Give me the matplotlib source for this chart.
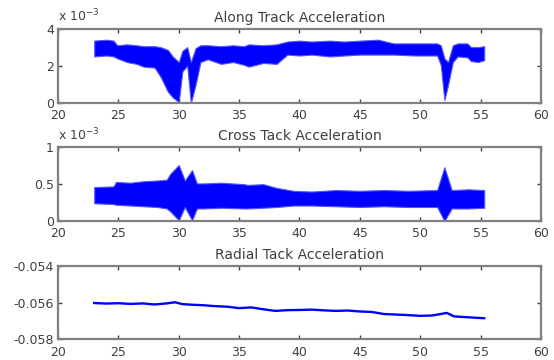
import matplotlib
matplotlib.use('Agg')
import matplotlib.pyplot as plt

plt.rcParams['font.family'] = ['DejaVu Sans']
plt.rcParams['axes.unicode_minus'] = False

# along track acceleration, envelope of the noisy band (units of 1e-3)
along_x = [23.0, 24.0, 24.6, 24.9, 25.7, 26.5, 27.1, 28.0, 28.5, 29.1, 29.5, 30.0,
           30.3, 30.7, 31.0, 31.4, 31.8, 32.4, 33.5, 34.5, 35.4, 35.8, 37.0, 38.1,
           39.0, 40.0, 41.0, 42.5, 43.7, 45.0, 46.5, 47.8, 49.5, 51.4, 51.7, 52.0,
           52.3, 52.7, 53.1, 53.9, 54.2, 54.8, 55.3]
along_hi = [3.35, 3.4, 3.35, 3.1, 3.15, 3.1, 3.05, 3.05, 3.0, 2.85, 2.5, 2.2,
            2.8, 3.0, 2.2, 2.95, 3.1, 3.1, 3.05, 3.1, 3.05, 3.15, 3.1, 3.15,
            3.3, 3.35, 3.3, 3.35, 3.3, 3.35, 3.4, 3.2, 3.2, 3.2, 3.1, 2.4,
            2.2, 3.1, 3.2, 3.2, 3.0, 3.0, 3.05]
along_lo = [2.5, 2.55, 2.5, 2.4, 2.2, 2.1, 1.95, 1.9, 1.4, 0.6, 0.3, 0.05,
            1.7, 2.0, 0.0, 1.0, 2.2, 2.35, 2.1, 2.2, 2.05, 1.95, 2.15, 2.1,
            2.6, 2.55, 2.6, 2.5, 2.55, 2.6, 2.6, 2.6, 2.55, 2.55, 2.05, 0.16,
            0.97, 2.2, 2.5, 2.45, 2.25, 2.2, 2.3]

# cross track acceleration envelope (units of 1e-3)
cross_x = [23.0, 24.6, 24.8, 26.0, 27.1, 28.2, 29.0, 29.3, 30.0, 30.5, 31.1, 31.5,
           32.1, 33.5, 35.4, 35.7, 37.0, 38.1, 39.5, 41.0, 43.0, 45.0, 47.0, 49.0,
           51.4, 52.0, 52.6, 54.0, 55.3]
cross_hi = [0.46, 0.47, 0.53, 0.52, 0.54, 0.55, 0.56, 0.64, 0.76, 0.55, 0.69, 0.51,
            0.51, 0.52, 0.50, 0.49, 0.50, 0.45, 0.41, 0.40, 0.42, 0.41, 0.42, 0.41,
            0.42, 0.73, 0.42, 0.43, 0.42]
cross_lo = [0.24, 0.23, 0.22, 0.21, 0.20, 0.19, 0.17, 0.13, 0.01, 0.19, 0.01, 0.17,
            0.17, 0.18, 0.17, 0.17, 0.18, 0.19, 0.21, 0.21, 0.20, 0.19, 0.20, 0.19,
            0.19, 0.0, 0.17, 0.17, 0.18]

# radial acceleration
radial_x = [23.0, 24.0, 25.0, 26.0, 27.0, 28.0, 29.0, 29.7, 30.3, 31.0, 32.0, 33.0,
            34.0, 35.0, 36.0, 37.0, 38.0, 39.0, 40.0, 41.0, 42.0, 43.0, 44.0, 45.0,
            46.0, 47.0, 48.0, 49.0, 50.0, 51.0, 51.7, 52.2, 52.8, 53.5, 54.5, 55.3]
radial_y = [-0.05602, -0.05605, -0.05603, -0.05607, -0.05604, -0.05610, -0.05604, -0.05598,
            -0.05608, -0.05611, -0.05614, -0.05619, -0.05622, -0.05630, -0.05626, -0.05636,
            -0.05645, -0.05641, -0.05640, -0.05638, -0.05642, -0.05645, -0.05643, -0.05648,
            -0.05651, -0.05662, -0.05665, -0.05668, -0.05672, -0.05670, -0.05662, -0.05656,
            -0.05675, -0.05678, -0.05682, -0.05685]

titles = ['Along Track Acceleration', 'Cross Tack Acceleration', 'Radial Tack Acceleration']
x_ticks = [20, 25, 30, 35, 40, 45, 50, 55, 60]

fig = plt.figure(figsize=(5.54, 3.6), dpi=100)
ax1 = fig.add_axes([0.1047, 0.7139, 0.8718, 0.2069])
ax2 = fig.add_axes([0.1047, 0.3861, 0.8718, 0.2047])
ax3 = fig.add_axes([0.1047, 0.0575, 0.8718, 0.2036])

ax1.fill_between(along_x, along_lo, along_hi, facecolor='#0000ff', edgecolor='#5555ff', linewidth=0.8)
ax1.set_ylim(0, 4)
ax1.set_yticks([0, 2, 4])
ax1.set_yticklabels(['0', '2', '4'])

ax2.fill_between(cross_x, cross_lo, cross_hi, facecolor='#0000ff', edgecolor='#5555ff', linewidth=0.8)
ax2.set_ylim(0, 1)
ax2.set_yticks([0, 0.5, 1])
ax2.set_yticklabels(['0', '0.5', '1'])

ax3.plot(radial_x, radial_y, color='#0000ff', linewidth=1.7)
ax3.set_ylim(-0.058, -0.054)
ax3.set_yticks([-0.058, -0.056, -0.054])
ax3.set_yticklabels(['-0.058', '-0.056', '-0.054'])

for ax, title in zip([ax1, ax2, ax3], titles):
    ax.set_xlim(20, 60)
    ax.set_xticks(x_ticks)
    ax.set_xticklabels([str(t) for t in x_ticks])
    ax.set_title(title, fontsize=10, color='#404040', pad=5)
    ax.tick_params(direction='in', length=3, width=1, color='#404040',
                   labelsize=9, labelcolor='#404040', top=True, right=True)
    ax.tick_params(axis='x', pad=4.5)
    ax.tick_params(axis='y', pad=3)
    for sp in ax.spines.values():
        sp.set_color('#808080')
        sp.set_linewidth(1.6)

for ax in [ax1, ax2]:
    ax.text(0.0, 1.06, r'x 10$^{-3}$', transform=ax.transAxes, fontsize=9,
            color='#404040', ha='left', va='bottom')

fig.savefig('out.png', dpi=100)
